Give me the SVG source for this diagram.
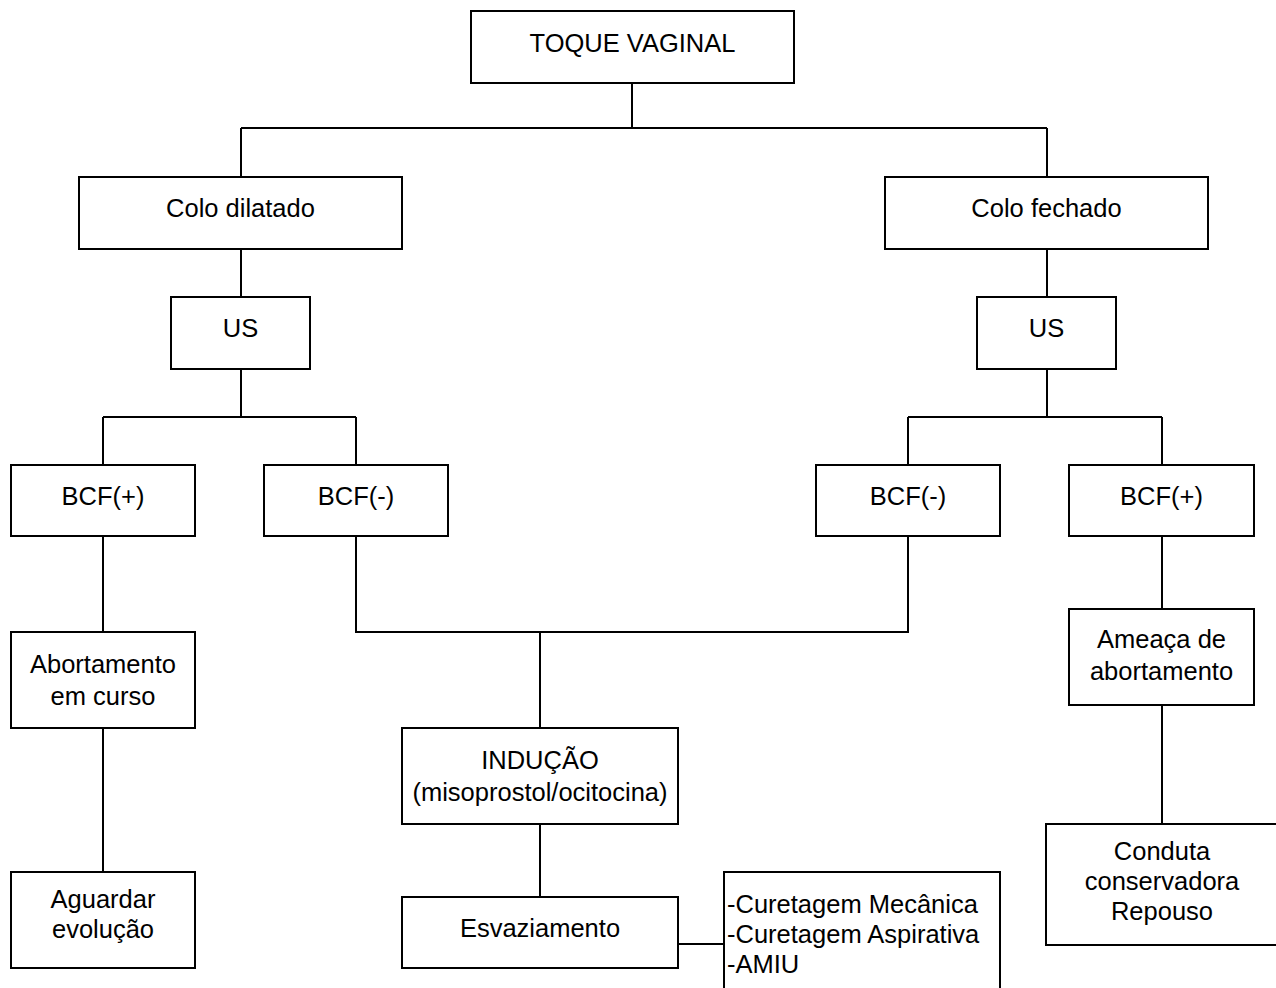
<svg xmlns="http://www.w3.org/2000/svg" width="1276" height="988" viewBox="0 0 1276 988">
<style>
.box{fill:#fff;stroke:#000;stroke-width:2}
.c{fill:none;stroke:#000;stroke-width:2}
text{font-family:"Liberation Sans",Arial,sans-serif;font-size:25.5px;fill:#000}
.m{text-anchor:middle}
</style>
<rect width="1276" height="988" fill="#fff"/>
<g id="connectors" class="c">
<path d="M632 83V128M241 128H1047M241 128V177M1047 128V177"/>
<path d="M241 249V297M241 369V417M103 417H356M103 417V465M356 417V465"/>
<path d="M1047 249V297M1047 369V417M908 417H1162M908 417V465M1162 417V465"/>
<path d="M103 536V632M103 728V872"/>
<path d="M356 536V632H908V536M540 632V728M540 824V897M678 944H724"/>
<path d="M1162 536V609M1162 705V824"/>
</g>
<g id="toque"><rect class="box" x="471" y="11" width="323" height="72"/><text class="m" x="632.5" y="52">TOQUE VAGINAL</text></g>
<g id="colo-dilatado"><rect class="box" x="79" y="177" width="323" height="72"/><text class="m" x="240.5" y="217">Colo dilatado</text></g>
<g id="colo-fechado"><rect class="box" x="885" y="177" width="323" height="72"/><text class="m" x="1046.5" y="217">Colo fechado</text></g>
<g id="us-left"><rect class="box" x="171" y="297" width="139" height="72"/><text class="m" x="240.5" y="337">US</text></g>
<g id="us-right"><rect class="box" x="977" y="297" width="139" height="72"/><text class="m" x="1046.5" y="337">US</text></g>
<g id="bcf-pos-left"><rect class="box" x="11" y="465" width="184" height="71"/><text class="m" x="103" y="505">BCF(+)</text></g>
<g id="bcf-neg-left"><rect class="box" x="264" y="465" width="184" height="71"/><text class="m" x="356" y="505">BCF(-)</text></g>
<g id="bcf-neg-right"><rect class="box" x="816" y="465" width="184" height="71"/><text class="m" x="908" y="505">BCF(-)</text></g>
<g id="bcf-pos-right"><rect class="box" x="1069" y="465" width="185" height="71"/><text class="m" x="1161.5" y="505">BCF(+)</text></g>
<g id="abortamento-curso"><rect class="box" x="11" y="632" width="184" height="96"/><text class="m" x="103" y="673">Abortamento</text><text class="m" x="103" y="705">em curso</text></g>
<g id="ameaca"><rect class="box" x="1069" y="609" width="185" height="96"/><text class="m" x="1161.5" y="648">Ameaça de</text><text class="m" x="1161.5" y="680">abortamento</text></g>
<g id="aguardar"><rect class="box" x="11" y="872" width="184" height="96"/><text class="m" x="103" y="908">Aguardar</text><text class="m" x="103" y="938">evolução</text></g>
<g id="inducao"><rect class="box" x="402" y="728" width="276" height="96"/><text class="m" x="540" y="769">INDUÇÃO</text><text class="m" x="540" y="801">(misoprostol/ocitocina)</text></g>
<g id="esvaziamento"><rect class="box" x="402" y="897" width="276" height="71"/><text class="m" x="540" y="937">Esvaziamento</text></g>
<g id="curetagem"><rect class="box" x="724" y="872" width="276" height="130"/><text x="727" y="913">-Curetagem Mecânica</text><text x="727" y="943">-Curetagem Aspirativa</text><text x="727" y="973">-AMIU</text></g>
<g id="conduta"><rect class="box" x="1046" y="824" width="240" height="121"/><text class="m" x="1162" y="860">Conduta</text><text class="m" x="1162" y="890">conservadora</text><text class="m" x="1162" y="920">Repouso</text></g>
</svg>
